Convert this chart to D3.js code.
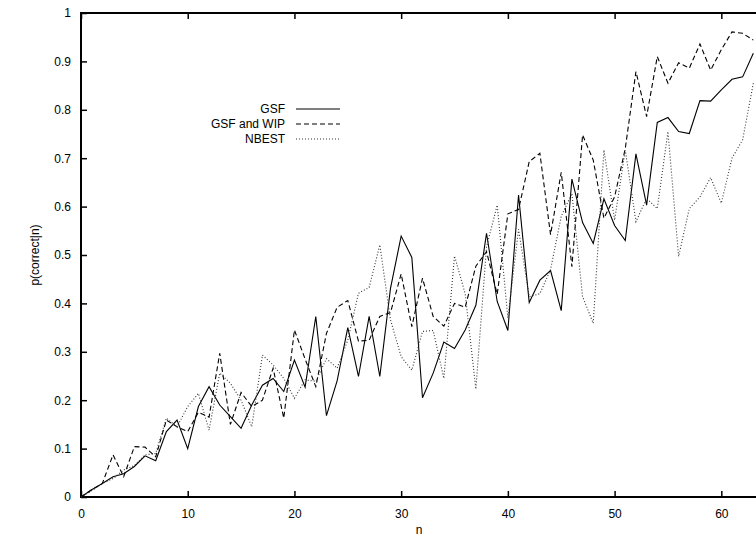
<!DOCTYPE html>
<html>
<head>
<meta charset="utf-8">
<script src="https://cdn.jsdelivr.net/npm/d3@7"></script>
<style>
  body { margin: 0; background: #fff; }
  svg text { font-family: "Liberation Sans", Arial, sans-serif; font-size: 12px; fill: #000; }
</style>
</head>
<body>
<svg id="chart" width="756" height="543"></svg>
<script>
// n values (x axis)
const nValues = [0, 1, 2, 3, 4, 5, 6, 7, 8, 9,
  10, 11, 12, 13, 14, 15, 16, 17, 18, 19,
  20, 21, 22, 23, 24, 25, 26, 27, 28, 29,
  30, 31, 32, 33, 34, 35, 36, 37, 38, 39,
  40, 41, 42, 43, 44, 45, 46, 47, 48, 49,
  50, 51, 52, 53, 54, 55, 56, 57, 58, 59,
  60, 61, 62, 63];

// p(correct|n) per series
const gsf = [0, 0.015, 0.028, 0.042, 0.048, 0.063, 0.085, 0.075, 0.135, 0.159,
  0.10, 0.187, 0.228, 0.19, 0.166, 0.142, 0.19, 0.231, 0.245, 0.218,
  0.283, 0.227, 0.373, 0.168, 0.24, 0.35, 0.249, 0.373, 0.249, 0.431,
  0.539, 0.495, 0.205, 0.256, 0.32, 0.307, 0.345, 0.396, 0.545, 0.404,
  0.344, 0.624, 0.402, 0.448, 0.468, 0.385, 0.657, 0.567, 0.524, 0.616,
  0.561, 0.53, 0.709, 0.603, 0.774, 0.784, 0.755, 0.751, 0.819, 0.818,
  0.841, 0.863, 0.868, 0.917];

const gsfWip = [0, 0.015, 0.028, 0.087, 0.042, 0.104, 0.103, 0.083, 0.159, 0.145,
  0.135, 0.175, 0.165, 0.297, 0.15, 0.216, 0.187, 0.20, 0.266, 0.163,
  0.345, 0.285, 0.228, 0.338, 0.392, 0.406, 0.322, 0.324, 0.373, 0.381,
  0.461, 0.352, 0.452, 0.373, 0.353, 0.40, 0.392, 0.477, 0.507, 0.419,
  0.585, 0.594, 0.693, 0.71, 0.542, 0.671, 0.476, 0.748, 0.696, 0.576,
  0.62, 0.72, 0.879, 0.786, 0.91, 0.855, 0.897, 0.886, 0.936, 0.882,
  0.924, 0.961, 0.958, 0.944];

const nbest = [0, 0.013, 0.028, 0.038, 0.056, 0.065, 0.087, 0.09, 0.163, 0.145,
  0.187, 0.214, 0.138, 0.256, 0.235, 0.20, 0.145, 0.293, 0.273, 0.245,
  0.204, 0.242, 0.239, 0.286, 0.266, 0.324, 0.421, 0.433, 0.521, 0.366,
  0.29, 0.262, 0.342, 0.344, 0.245, 0.498, 0.42, 0.223, 0.517, 0.603,
  0.37, 0.553, 0.414, 0.42, 0.47, 0.58, 0.627, 0.414, 0.359, 0.717,
  0.572, 0.717, 0.569, 0.617, 0.596, 0.755, 0.497, 0.596, 0.62, 0.66,
  0.607, 0.70, 0.738, 0.855];

const seriesNames = ["GSF", "GSF and WIP", "NBEST"];
const xTicks = [0, 10, 20, 30, 40, 50, 60];
const yTicks = [0, 0.1, 0.2, 0.3, 0.4, 0.5, 0.6, 0.7, 0.8, 0.9, 1];

const svg = d3.select("#chart");

// plot frame: right edge falls just past the window
const plotL = 81, plotT = 13, plotR = 764, plotB = 497;

const x = d3.scaleLinear().domain([0, 64]).range([plotL, plotR]);
const y = d3.scaleLinear().domain([0, 1]).range([plotB, plotT]);

// axes, gnuplot style ticks pointing inward on all sides
const fmtY = d => d === 0 ? "0" : d === 1 ? "1" : d3.format(".1f")(d);

svg.append("g")
    .attr("transform", `translate(0,${plotB})`)
    .call(d3.axisBottom(x).tickValues(xTicks).tickSizeInner(-6).tickSizeOuter(0).tickPadding(12));
svg.append("g")
    .attr("transform", `translate(0,${plotT})`)
    .call(d3.axisTop(x).tickValues(xTicks).tickSizeInner(-6).tickSizeOuter(0).tickFormat(""));
svg.append("g")
    .attr("transform", `translate(${plotL},0)`)
    .call(d3.axisLeft(y).tickValues(yTicks).tickSizeInner(-6).tickSizeOuter(0).tickPadding(10).tickFormat(fmtY));
svg.append("g")
    .attr("transform", `translate(${plotR},0)`)
    .call(d3.axisRight(y).tickValues(yTicks).tickSizeInner(-6).tickSizeOuter(0).tickFormat(""));

svg.selectAll(".domain").remove();
svg.selectAll(".tick line").attr("stroke", "#000").attr("stroke-width", 1.5);
svg.selectAll(".tick text").attr("font-size", 12).attr("font-family", null);

svg.append("rect")
    .attr("x", plotL).attr("y", plotT)
    .attr("width", plotR - plotL).attr("height", plotB - plotT)
    .attr("fill", "none")
    .attr("stroke", "#000")
    .attr("stroke-width", 2);

// axis titles
svg.append("text")
    .attr("x", 419).attr("y", 534)
    .attr("text-anchor", "middle")
    .text("n");
svg.append("text")
    .attr("transform", "translate(39,255) rotate(-90)")
    .attr("text-anchor", "middle")
    .text("p(correct|n)");

// lines
const series = [
  { name: seriesNames[0], values: gsf, dash: null, color: "#000" },
  { name: seriesNames[1], values: gsfWip, dash: "5,3", color: "#000" },
  { name: seriesNames[2], values: nbest, dash: "1,2", color: "#333" }
];

const line = d3.line()
    .x((d, i) => x(nValues[i]))
    .y(d => y(d));

svg.append("g").selectAll("path")
  .data(series)
  .join("path")
    .attr("d", d => line(d.values))
    .attr("fill", "none")
    .attr("stroke", d => d.color)
    .attr("stroke-width", 1.1)
    .attr("stroke-dasharray", d => d.dash);

// legend
const legend = svg.append("g").selectAll("g")
  .data(series)
  .join("g")
    .attr("transform", (d, i) => `translate(0,${109 + i * 15})`);

legend.append("text")
    .attr("x", 285)
    .attr("dy", "0.35em")
    .attr("text-anchor", "end")
    .text(d => d.name);

legend.append("line")
    .attr("x1", 296).attr("x2", 340)
    .attr("stroke", d => d.color)
    .attr("stroke-width", 1.1)
    .attr("stroke-dasharray", d => d.dash);
</script>
</body>
</html>
